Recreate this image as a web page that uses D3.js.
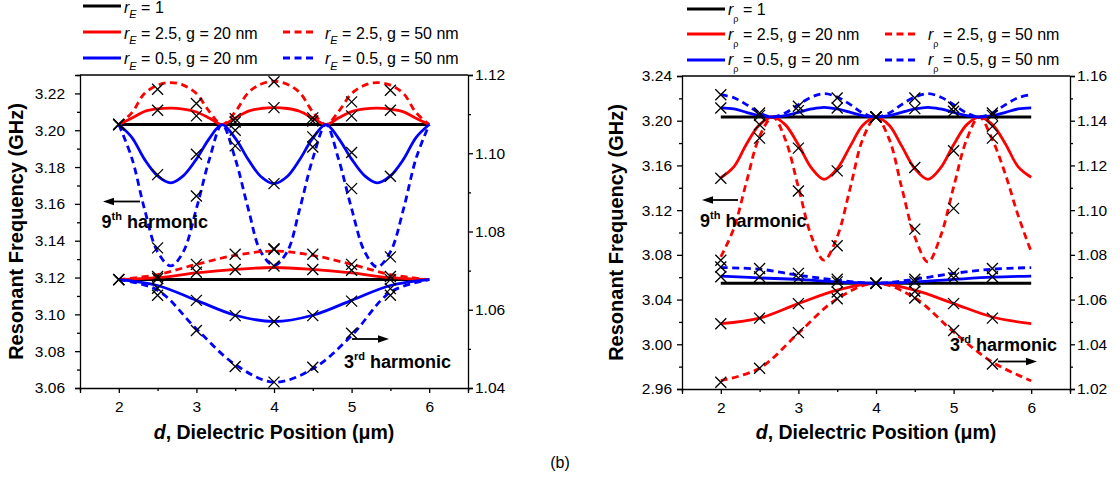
<!DOCTYPE html>
<html><head><meta charset="utf-8">
<script src="https://cdn.jsdelivr.net/npm/d3@7"></script>
<style>
body{margin:0;background:#fff}
svg{display:block}
text{font-family:"Liberation Sans",Arial,sans-serif}
</style>
</head><body>
<svg id="c" width="1120" height="485"></svg>
<script>
// ---------- shared x positions ----------
const dFine   = [2, 2.17, 2.33, 2.5, 2.67, 2.83, 3, 3.17, 3.33, 3.5, 3.67, 3.83, 4, 4.17, 4.33, 4.5, 4.67, 4.83, 5, 5.17, 5.33, 5.5, 5.67, 5.83, 6];
const dCoarse = [2, 2.5, 3, 3.5, 4, 4.5, 5, 5.5, 6];
const dMarks  = [2, 2.5, 3, 3.5, 4, 4.5, 5, 5.5];

// ---------- ticks ----------
const xMajor = [2, 3, 4, 5, 6];
const xMinor = [1.5, 2.5, 3.5, 4.5, 5.5, 6.5];
const aLeftMajor  = [3.06, 3.08, 3.10, 3.12, 3.14, 3.16, 3.18, 3.20, 3.22];
const aLeftMinor  = [3.07, 3.09, 3.11, 3.13, 3.15, 3.17, 3.19, 3.21, 3.23];
const aRightMajor = [1.04, 1.06, 1.08, 1.10, 1.12];
const aRightMinor = [1.05, 1.07, 1.09, 1.11];
const bLeftMajor  = [2.96, 3.00, 3.04, 3.08, 3.12, 3.16, 3.20, 3.24];
const bLeftMinor  = [2.98, 3.02, 3.06, 3.10, 3.14, 3.18, 3.22];
const bRightMajor = [1.02, 1.04, 1.06, 1.08, 1.10, 1.12, 1.14, 1.16];
const bRightMinor = [1.03, 1.05, 1.07, 1.09, 1.11, 1.13, 1.15];

// ---------- panel A (r_E): 9th harmonic (left axis) ----------
const aBlack9  = [3.2031, 3.2031, 3.2031, 3.2031, 3.2031, 3.2031, 3.2031, 3.2031, 3.2031];
const aRed20_9 = [3.2031, 3.2066, 3.2102, 3.2116, 3.2120, 3.2115, 3.2099, 3.2065, 3.2031, 3.2067, 3.2104, 3.2118, 3.2123, 3.2118, 3.2103, 3.2066, 3.2031, 3.2066, 3.2101, 3.2116, 3.2120, 3.2115, 3.2100, 3.2065, 3.2031];
const aRed50_9 = [3.2031, 3.2096, 3.2199, 3.2245, 3.2259, 3.2245, 3.2199, 3.2100, 3.2031, 3.2100, 3.2205, 3.2250, 3.2266, 3.2250, 3.2205, 3.2100, 3.2031, 3.2100, 3.2199, 3.2245, 3.2259, 3.2245, 3.2199, 3.2096, 3.2031];
const aBlue20_9 = [3.2031, 3.1960, 3.1843, 3.1752, 3.1714, 3.1752, 3.1843, 3.1957, 3.2031, 3.1957, 3.1840, 3.1749, 3.1710, 3.1749, 3.1840, 3.1957, 3.2031, 3.1957, 3.1843, 3.1752, 3.1714, 3.1752, 3.1843, 3.1960, 3.2031];
const aBlue50_9 = [3.2031, 3.1846, 3.1574, 3.1339, 3.1263, 3.1339, 3.1574, 3.1846, 3.2031, 3.1846, 3.1570, 3.1340, 3.1266, 3.1340, 3.1570, 3.1846, 3.2031, 3.1846, 3.1574, 3.1339, 3.1257, 3.1339, 3.1574, 3.1846, 3.2031];
// 3rd harmonic (right axis)
const aBlack3   = [1.0677, 1.0677, 1.0677, 1.0677, 1.0677, 1.0677, 1.0677, 1.0677, 1.0677];
const aRed20_3  = [1.0677, 1.0682, 1.0694, 1.0703, 1.0708, 1.0703, 1.0694, 1.0682, 1.0677];
const aRed50_3  = [1.0677, 1.0690, 1.0716, 1.0739, 1.0750, 1.0739, 1.0716, 1.0690, 1.0677];
const aBlue20_3 = [1.0677, 1.0662, 1.0624, 1.0586, 1.0570, 1.0586, 1.0624, 1.0662, 1.0677];
const aBlue50_3 = [1.0677, 1.0650, 1.0551, 1.0460, 1.0415, 1.0449, 1.0534, 1.0645, 1.0677];
// simulated points (x markers)
const mA_red20_9  = [3.2031, 3.2109, 3.2078, 3.2045, 3.2123, 3.2050, 3.2078, 3.2109];
const mA_red50_9  = [3.2031, 3.2223, 3.2145, 3.2063, 3.2263, 3.2067, 3.2154, 3.2217];
const mA_blue20_9 = [3.2031, 3.1759, 3.1870, 3.2000, 3.1710, 3.1964, 3.1879, 3.1750];
const mA_blue50_9 = [3.2031, 3.1361, 3.1643, 3.1915, 3.1357, 3.1909, 3.1683, 3.1312];
const mA_red20_3  = [1.0677, 1.0680, 1.0696, 1.0703, 1.0712, 1.0703, 1.0701, 1.0677];
const mA_red50_3  = [1.0677, 1.0685, 1.0716, 1.0742, 1.0754, 1.0742, 1.0716, 1.0685];
const mA_blue20_3 = [1.0677, 1.0655, 1.0624, 1.0585, 1.0570, 1.0585, 1.0622, 1.0654];
const mA_blue50_3 = [1.0677, 1.0637, 1.0547, 1.0455, 1.0415, 1.0453, 1.0540, 1.0637];

// ---------- panel B (r_rho): 9th harmonic (left axis) ----------
const bBlack9  = [3.2033, 3.2033, 3.2033, 3.2033, 3.2033, 3.2033, 3.2033, 3.2033, 3.2033];
const bRed20_9 = [3.1490, 3.1590, 3.1790, 3.1965, 3.2033, 3.1965, 3.1785, 3.1575, 3.1476, 3.1570, 3.1775, 3.1960, 3.2033, 3.1960, 3.1775, 3.1570, 3.1476, 3.1575, 3.1785, 3.1965, 3.2033, 3.1965, 3.1790, 3.1590, 3.1494];
const bRed50_9 = [3.0782, 3.1040, 3.1450, 3.1860, 3.2033, 3.1835, 3.1405, 3.0962, 3.0752, 3.0962, 3.1405, 3.1835, 3.2033, 3.1835, 3.1405, 3.0962, 3.0737, 3.0962, 3.1405, 3.1835, 3.2033, 3.1830, 3.1515, 3.1156, 3.0827];
const bBlue20_9 = [3.2114, 3.2105, 3.2075, 3.2045, 3.2033, 3.2045, 3.2075, 3.2105, 3.2120, 3.2105, 3.2075, 3.2045, 3.2033, 3.2045, 3.2075, 3.2105, 3.2120, 3.2105, 3.2075, 3.2045, 3.2033, 3.2045, 3.2075, 3.2105, 3.2114];
const bBlue50_9 = [3.2233, 3.2205, 3.2144, 3.2069, 3.2033, 3.2069, 3.2144, 3.2212, 3.2242, 3.2212, 3.2144, 3.2069, 3.2033, 3.2069, 3.2144, 3.2212, 3.2242, 3.2212, 3.2144, 3.2069, 3.2033, 3.2069, 3.2144, 3.2205, 3.2233];
// 3rd harmonic (right axis)
const bBlack3   = [1.0673, 1.0673, 1.0673, 1.0673, 1.0673, 1.0673, 1.0673, 1.0673, 1.0673];
const bRed20_3  = [1.0492, 1.0517, 1.0582, 1.0642, 1.0673, 1.0642, 1.0582, 1.0522, 1.0492];
const bRed50_3  = [1.0237, 1.0293, 1.0450, 1.0604, 1.0673, 1.0607, 1.0455, 1.0320, 1.0237];
const bBlue20_3 = [1.0705, 1.0697, 1.0690, 1.0679, 1.0673, 1.0679, 1.0690, 1.0700, 1.0705];
const bBlue50_3 = [1.0743, 1.0736, 1.0709, 1.0687, 1.0673, 1.0691, 1.0717, 1.0736, 1.0743];
// simulated points
const mB_red20_9  = [3.1485, 3.1964, 3.1755, 3.1551, 3.2033, 3.1581, 3.1731, 3.1949];
const mB_red50_9  = [3.0752, 3.1844, 3.1372, 3.0881, 3.2033, 3.1030, 3.1216, 3.1844];
const mB_blue20_9 = [3.2114, 3.2048, 3.2090, 3.2114, 3.2033, 3.2108, 3.2084, 3.2048];
const mB_blue50_9 = [3.2233, 3.2069, 3.2129, 3.2203, 3.2033, 3.2203, 3.2120, 3.2069];
const mB_red20_3  = [1.0492, 1.0517, 1.0582, 1.0634, 1.0673, 1.0637, 1.0582, 1.0517];
const mB_red50_3  = [1.0230, 1.0293, 1.0452, 1.0604, 1.0673, 1.0607, 1.0462, 1.0312];
const mB_blue20_3 = [1.0702, 1.0702, 1.0697, 1.0679, 1.0673, 1.0679, 1.0697, 1.0702];
const mB_blue50_3 = [1.0746, 1.0739, 1.0717, 1.0691, 1.0673, 1.0691, 1.0717, 1.0739];

// ---------- text ----------
const legendLabels = ["= 1", "= 2.5, g = 20 nm", "= 2.5, g = 50 nm", "= 0.5, g = 20 nm", "= 0.5, g = 50 nm"];
const xTitle = ", Dielectric Position (\u03bcm)";
const yTitle = "Resonant Frequency (GHz)";

const RED = "#ff0000", BLUE = "#0000ff", BLACK = "#000000";
const svg = d3.select("#c");
const curve = d3.curveCatmullRom.alpha(0.5);
const FONT = "Liberation Sans, Arial, sans-serif";

function styleAxis(g, fs) {
  g.attr("font-family", FONT).attr("font-size", fs);
  g.select(".domain").attr("stroke-width", 1.3).attr("stroke", "#000");
  g.selectAll(".tick line").attr("stroke-width", 1.3).attr("stroke", "#000");
  g.selectAll(".tick text").attr("fill", "#000");
}

function drawPanel(P) {
  const x = d3.scaleLinear().domain([1.5, 6.5]).range([P.x0, P.x1]);
  const yL = d3.scaleLinear().domain(P.yLdom).range([P.y1, P.y0]);
  const yR = d3.scaleLinear().domain(P.yRdom).range([P.y1, P.y0]);
  const clipId = "clip" + P.id;
  svg.append("clipPath").attr("id", clipId).append("rect")
    .attr("x", P.x0).attr("y", P.y0).attr("width", P.x1 - P.x0).attr("height", P.y1 - P.y0);
  const plot = svg.append("g").attr("clip-path", `url(#${clipId})`);
  P.series.forEach(s => {
    const ys = s.axis === "L" ? yL : yR;
    const line = d3.line().x((d, i) => x(s.x[i])).y(d => ys(d)).curve(curve);
    plot.append("path").attr("d", line(s.y)).attr("fill", "none")
      .attr("stroke", s.color).attr("stroke-width", s.color === BLACK ? 3 : 2.8)
      .attr("stroke-dasharray", s.dash ? "7,4.5" : null);
  });
  const mk = svg.append("g");
  P.marks.forEach(m => {
    const ys = m.axis === "L" ? yL : yR;
    m.y.forEach((v, i) => {
      mk.append("path").attr("transform", `translate(${x(dMarks[i])},${ys(v)})`)
        .attr("d", "M-5.5,-5.5L5.5,5.5M-5.5,5.5L5.5,-5.5")
        .attr("stroke", "#000").attr("stroke-width", 1.3).attr("fill", "none");
    });
  });
  // axes
  const fs = 15.5;
  const gb = svg.append("g").attr("transform", `translate(0,${P.y1})`)
    .call(d3.axisBottom(x).tickValues(xMajor).tickFormat(d3.format("d")).tickSize(5).tickPadding(8));
  styleAxis(gb, fs);
  const gbm = svg.append("g").attr("transform", `translate(0,${P.y1})`)
    .call(d3.axisBottom(x).tickValues(xMinor).tickFormat("").tickSize(3));
  styleAxis(gbm, fs); gbm.select(".domain").remove();

  const gl = svg.append("g").attr("transform", `translate(${P.x0},0)`)
    .call(d3.axisLeft(yL).tickValues(P.lMajor).tickFormat(d3.format(".2f")).tickSize(5).tickPadding(P.lPad));
  styleAxis(gl, fs);
  const glm = svg.append("g").attr("transform", `translate(${P.x0},0)`)
    .call(d3.axisLeft(yL).tickValues(P.lMinor).tickFormat("").tickSize(3));
  styleAxis(glm, fs); glm.select(".domain").remove();

  const gr = svg.append("g").attr("transform", `translate(${P.x1},0)`)
    .call(d3.axisRight(yR).tickValues(P.rMajor).tickFormat(d3.format(".2f")).tickSize(5).tickPadding(2));
  styleAxis(gr, fs);
  const grm = svg.append("g").attr("transform", `translate(${P.x1},0)`)
    .call(d3.axisRight(yR).tickValues(P.rMinor).tickFormat("").tickSize(3));
  styleAxis(grm, fs); grm.select(".domain").remove();

  // top frame
  svg.append("line").attr("x1", P.x0).attr("x2", P.x1).attr("y1", P.y0).attr("y2", P.y0)
    .attr("stroke", "#000").attr("stroke-width", 1.3);

  // titles
  const xt = svg.append("text").attr("x", (P.x0 + P.x1) / 2).attr("y", 438.5)
    .attr("text-anchor", "middle").attr("font-size", 19.5).attr("font-weight", "bold");
  xt.append("tspan").attr("font-style", "italic").text("d");
  xt.append("tspan").text(xTitle);
  svg.append("text").attr("transform", `translate(${P.yTitleX},${(P.y0 + P.y1) / 2}) rotate(-90)`)
    .attr("text-anchor", "middle").attr("font-size", 20).attr("font-weight", "bold").text(yTitle);

  // annotations
  function ann(txt, sup, tx, ty) {
    const t = svg.append("text").attr("x", tx).attr("y", ty).attr("font-size", 18).attr("font-weight", "bold");
    t.append("tspan").text(txt);
    t.append("tspan").attr("font-size", 11).attr("dy", -8).text(sup);
    t.append("tspan").attr("dy", 8).text(" harmonic");
  }
  ann("9", "th", P.a9.tx, P.a9.ty);
  ann("3", "rd", P.a3.tx, P.a3.ty);
  function arrow(xa, xb, yy, dir) {
    const tip = dir < 0 ? xa : xb;
    const tail = dir < 0 ? xb : xa;
    svg.append("line").attr("x1", tail).attr("x2", tip - dir * 8).attr("y1", yy).attr("y2", yy)
      .attr("stroke", "#000").attr("stroke-width", 1.8);
    svg.append("path").attr("d", `M${tip},${yy}L${tip - dir * 11},${yy - 3.8}L${tip - dir * 11},${yy + 3.8}Z`).attr("fill", "#000");
  }
  arrow(P.ar9[0], P.ar9[1], P.ar9[2], -1);
  arrow(P.ar3[0], P.ar3[1], P.ar3[2], 1);

  // legend
  const L = P.legend;
  const items = [
    {c: BLACK, dash: false, col: 0, row: 0, lab: legendLabels[0]},
    {c: RED, dash: false, col: 0, row: 1, lab: legendLabels[1]},
    {c: RED, dash: true, col: 1, row: 1, lab: legendLabels[2]},
    {c: BLUE, dash: false, col: 0, row: 2, lab: legendLabels[3]},
    {c: BLUE, dash: true, col: 1, row: 2, lab: legendLabels[4]}
  ];
  items.forEach(it => {
    const lx = L.lineX[it.col], ly = L.lineY[it.row];
    svg.append("line").attr("x1", lx[0]).attr("x2", lx[1]).attr("y1", ly).attr("y2", ly)
      .attr("stroke", it.c).attr("stroke-width", 3).attr("stroke-dasharray", it.dash ? "7,4.5" : null);
    const t = svg.append("text").attr("x", L.textX[it.col]).attr("y", L.baseY[it.row]).attr("font-size", 16);
    t.append("tspan").attr("font-style", "italic").text("r");
    t.append("tspan").attr("font-style", L.subItalic ? "italic" : "normal").attr("font-size", L.subSize).attr("dy", L.subDy).text(L.sub);
    t.append("tspan").attr("dy", -L.subDy).text(" " + it.lab);
  });
}

drawPanel({
  id: "A", x0: 80, x1: 468, y0: 75, y1: 388,
  yLdom: [3.06, 3.23], yRdom: [1.04, 1.12],
  lMajor: aLeftMajor, lMinor: aLeftMinor, rMajor: aRightMajor, rMinor: aRightMinor, lPad: 10,
  yTitleX: 23,
  series: [
    {x: dCoarse, y: aBlack9, axis: "L", color: BLACK},
    {x: dCoarse, y: aBlack3, axis: "R", color: BLACK},
    {x: dFine, y: aRed20_9, axis: "L", color: RED},
    {x: dFine, y: aRed50_9, axis: "L", color: RED, dash: true},
    {x: dFine, y: aBlue20_9, axis: "L", color: BLUE},
    {x: dFine, y: aBlue50_9, axis: "L", color: BLUE, dash: true},
    {x: dCoarse, y: aRed20_3, axis: "R", color: RED},
    {x: dCoarse, y: aRed50_3, axis: "R", color: RED, dash: true},
    {x: dCoarse, y: aBlue20_3, axis: "R", color: BLUE},
    {x: dCoarse, y: aBlue50_3, axis: "R", color: BLUE, dash: true}
  ],
  marks: [
    {y: mA_red20_9, axis: "L"}, {y: mA_red50_9, axis: "L"}, {y: mA_blue20_9, axis: "L"}, {y: mA_blue50_9, axis: "L"},
    {y: mA_red20_3, axis: "R"}, {y: mA_red50_3, axis: "R"}, {y: mA_blue20_3, axis: "R"}, {y: mA_blue50_3, axis: "R"}
  ],
  a9: {tx: 101.5, ty: 228}, a3: {tx: 344, ty: 368},
  ar9: [103, 140, 201.5], ar3: [352, 389, 339],
  legend: {lineX: [[83, 121], [283, 314]], textX: [124, 325], lineY: [6, 32, 58], baseY: [12.5, 38.5, 64],
           sub: "E", subSize: 11, subDy: 5.5, subItalic: true}
});

drawPanel({
  id: "B", x0: 682, x1: 1070, y0: 76, y1: 389,
  yLdom: [2.96, 3.24], yRdom: [1.02, 1.16],
  lMajor: bLeftMajor, lMinor: bLeftMinor, rMajor: bRightMajor, rMinor: bRightMinor, lPad: 5,
  yTitleX: 623,
  series: [
    {x: dCoarse, y: bBlack9, axis: "L", color: BLACK},
    {x: dCoarse, y: bBlack3, axis: "R", color: BLACK},
    {x: dFine, y: bRed20_9, axis: "L", color: RED},
    {x: dFine, y: bRed50_9, axis: "L", color: RED, dash: true},
    {x: dFine, y: bBlue20_9, axis: "L", color: BLUE},
    {x: dFine, y: bBlue50_9, axis: "L", color: BLUE, dash: true},
    {x: dCoarse, y: bRed20_3, axis: "R", color: RED},
    {x: dCoarse, y: bRed50_3, axis: "R", color: RED, dash: true},
    {x: dCoarse, y: bBlue20_3, axis: "R", color: BLUE},
    {x: dCoarse, y: bBlue50_3, axis: "R", color: BLUE, dash: true}
  ],
  marks: [
    {y: mB_red20_9, axis: "L"}, {y: mB_red50_9, axis: "L"}, {y: mB_blue20_9, axis: "L"}, {y: mB_blue50_9, axis: "L"},
    {y: mB_red20_3, axis: "R"}, {y: mB_red50_3, axis: "R"}, {y: mB_blue20_3, axis: "R"}, {y: mB_blue50_3, axis: "R"}
  ],
  a9: {tx: 700, ty: 227}, a3: {tx: 950, ty: 351},
  ar9: [702, 738, 200], ar3: [998, 1037, 361.5],
  legend: {lineX: [[687, 725], [885, 917]], textX: [728, 928], lineY: [9, 34, 60], baseY: [15, 40, 65],
           sub: "\u03c1", subSize: 9, subDy: 6.5, subItalic: false}
});

svg.append("text").attr("x", 560).attr("y", 468).attr("text-anchor", "middle")
  .attr("font-family", "Liberation Serif, Times New Roman, serif").attr("font-size", 16).text("(b)");
</script>
</body></html>
